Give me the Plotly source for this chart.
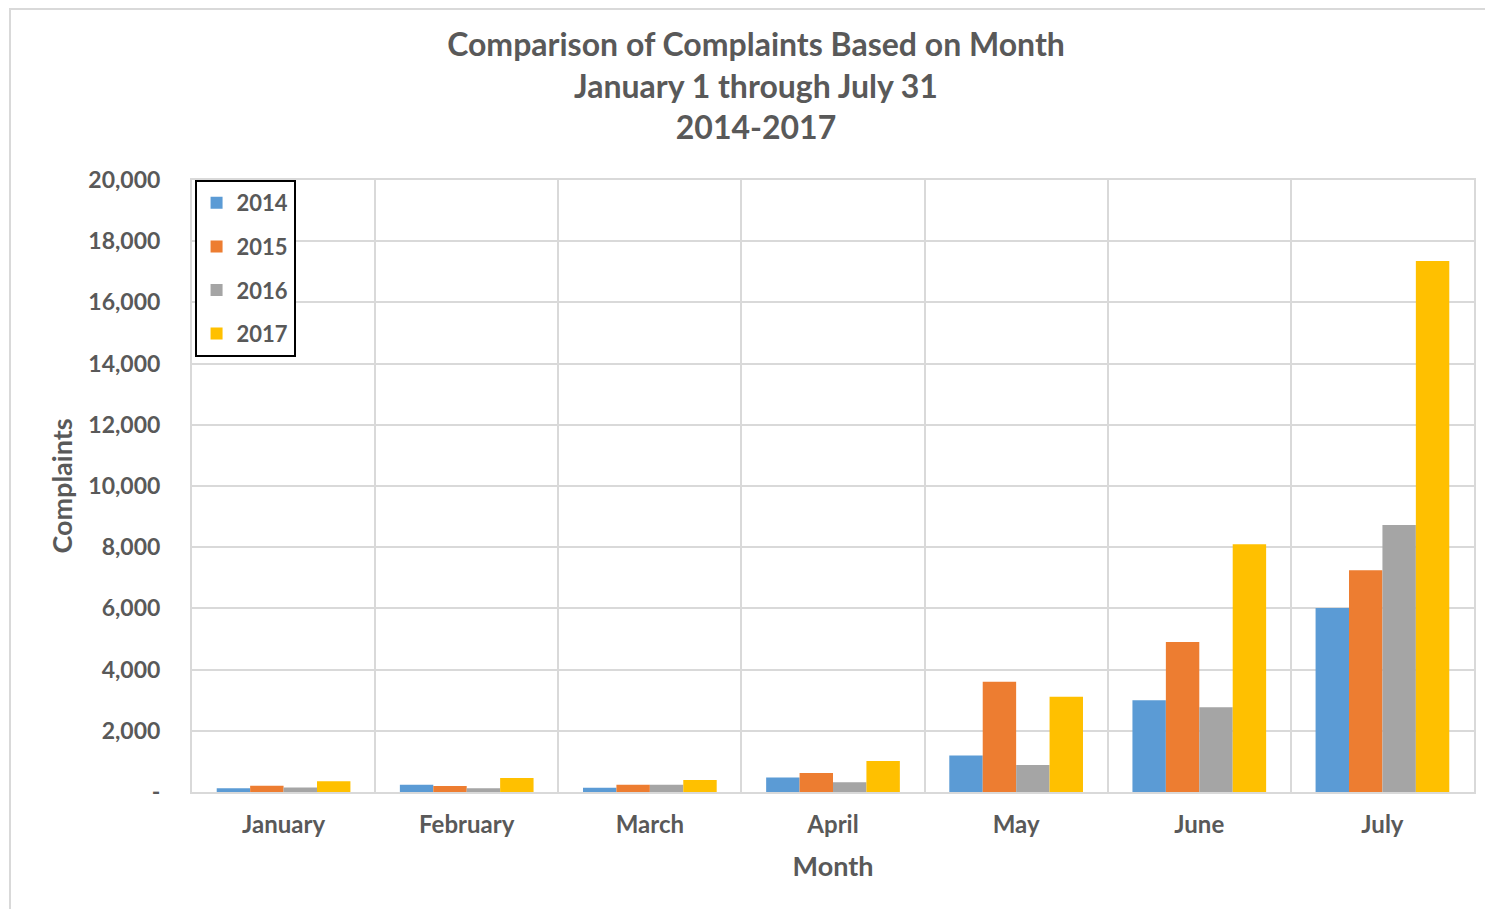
import plotly.graph_objects as go

MONTHS = ["January", "February", "March", "April", "May", "June", "July"]
YEARS = ["2014", "2015", "2016", "2017"]
C2014 = [120, 240, 140, 470, 1190, 3000, 6010]
C2015 = [205, 200, 240, 620, 3600, 4900, 7245]
C2016 = [150, 120, 240, 315, 880, 2770, 8725]
C2017 = [350, 460, 390, 1010, 3115, 8100, 17350]
COLORS = ["#5B9BD5", "#ED7D31", "#A5A5A5", "#FFC000"]

YTICKS = list(range(0, 20001, 2000))
YTEXT = ["-"] + [f"{v:,}" for v in YTICKS[1:]]

GREY = "#595959"
FONT = "Lato"

fig = go.Figure()
for yr, vals, col in zip(YEARS, [C2014, C2015, C2016, C2017], COLORS):
    fig.add_trace(go.Bar(x=MONTHS, y=vals, name=yr, marker_color=col,
                         marker_line_width=0, legendgroup=yr))

# page body has an 8px margin, so the figure is 8px smaller than the window
fig.update_layout(
    width=1485, height=901,
    paper_bgcolor="white", plot_bgcolor="white",
    font=dict(family=FONT, color=GREY),
    barmode="group", bargap=0.27, bargroupgap=0,
    margin=dict(l=184, r=19, t=172, b=117),
    title=dict(
        text="<b>Comparison of Complaints Based on Month<br>January 1 through July 31<br>2014-2017</b>",
        x=(756 - 8) / 1485, xanchor="center", y=1 - 48 / 901, yanchor="middle",
        font=dict(size=32, color=GREY, family=FONT),
    ),
    legend=dict(
        x=0.002, y=1.0, xanchor="left", yanchor="top",
        bordercolor="black", borderwidth=2, bgcolor="white",
        font=dict(size=22, color=GREY, family=FONT, weight="bold"),
        tracegroupgap=12, itemwidth=30,
    ),
    showlegend=True,
)
fig.update_xaxes(
    tickson="boundaries", showgrid=True, gridcolor="#D9D9D9", gridwidth=2,
    showline=True, linecolor="#D9D9D9", linewidth=2, mirror=True,
    ticks="", ticklabelstandoff=10, tickfont=dict(size=24, color=GREY, weight="bold"),
    title=dict(text="<b>Month</b>", font=dict(size=27, color=GREY), standoff=20),
)
fig.update_yaxes(
    range=[0, 20000], tickvals=YTICKS, ticktext=YTEXT,
    showgrid=True, gridcolor="#D9D9D9", gridwidth=2, zeroline=False,
    showline=True, linecolor="#D9D9D9", linewidth=2, mirror=True,
    ticks="", ticklabelstandoff=25,
    tickfont=dict(size=23, color=GREY, weight="bold"),
    title=dict(text="<b>Complaints</b>", font=dict(size=27, color=GREY), standoff=8),
)

# outer chart frame (left and top edges visible)
fig.add_shape(type="rect", xref="paper", yref="paper",
              x0=(10 - 192) / 1282, x1=(1500 - 192) / 1282,
              y0=(792 - 930) / 612, y1=(792 - 9) / 612,
              line=dict(color="#D9D9D9", width=2), layer="below")

fig.write_html("out.html")
